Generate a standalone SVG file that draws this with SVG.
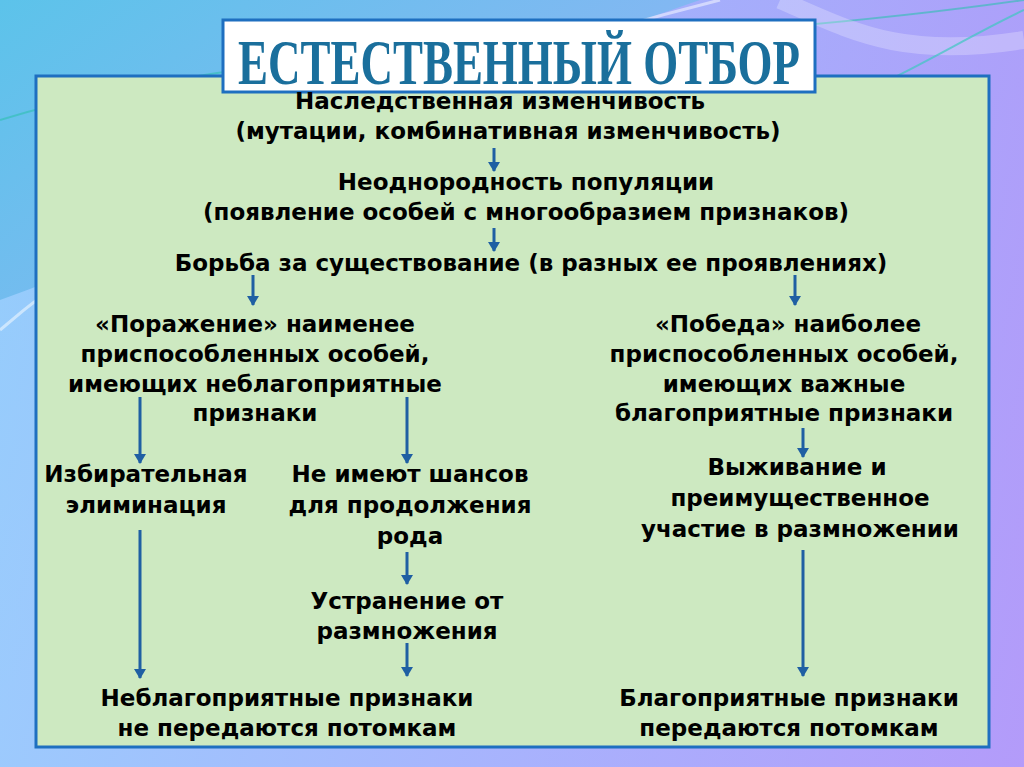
<svg xmlns="http://www.w3.org/2000/svg" width="1024" height="767" viewBox="0 0 1024 767">
<defs>
<linearGradient id="bg" x1="0" y1="0" x2="1" y2="1">
<stop offset="0" stop-color="#5cc3ea"/>
<stop offset="0.45" stop-color="#8fb4f5"/>
<stop offset="1" stop-color="#b497f5"/>
</linearGradient>
<linearGradient id="bg2" x1="0" y1="0" x2="1" y2="0">
<stop offset="0" stop-color="#9fd0ff"/>
<stop offset="0.5" stop-color="#a9b6ff"/>
<stop offset="1" stop-color="#b39cfb"/>
</linearGradient>
<marker id="ah" viewBox="0 0 10 12" refX="9" refY="6" markerWidth="10" markerHeight="12" markerUnits="userSpaceOnUse" orient="auto">
<path d="M0,0 L10,6 L0,12 Z" fill="#1f5fa3"/>
</marker>
<style>
.t{font-family:"DejaVu Sans",Verdana,sans-serif;font-weight:bold;font-size:23px;fill:#000;text-anchor:middle}
.c{stroke:#1f5fa3;stroke-width:3;fill:none}
</style>
</defs>
<rect x="0" y="0" width="1024" height="767" fill="url(#bg)"/>
<path d="M0,300 C200,230 350,120 700,0 L1024,0 L1024,767 L0,767 Z" fill="url(#bg2)" opacity="0.8"/>
<path d="M0,330 C150,200 400,80 720,0" stroke="#ffffff" stroke-width="3" fill="none" opacity="0.5"/>
<path d="M0,120 C300,30 600,60 1024,0" stroke="#2fbfb0" stroke-width="2" fill="none" opacity="0.6"/>
<path d="M780,0 C850,30 900,60 1024,40" stroke="#ffffff" stroke-width="18" fill="none" opacity="0.25"/>
<path d="M820,110 C900,80 960,40 1024,10" stroke="#3fc7c0" stroke-width="2" fill="none" opacity="0.7"/>

<g id="panel">
<rect x="36" y="76" width="953" height="671" fill="#cde9c1" stroke="#1e6fc0" stroke-width="3"/>
</g>
<g id="title">
<rect x="223" y="20" width="592" height="72" fill="#ffffff" stroke="#1e6fc0" stroke-width="3"/>
<text x="519" y="84" font-family="'Liberation Serif',serif" font-weight="bold" font-size="64" fill="#1a6f9c" text-anchor="middle" textLength="562" lengthAdjust="spacingAndGlyphs">ЕСТЕСТВЕННЫЙ ОТБОР</text>
</g>

<g id="connectors">
<line class="c" x1="494" y1="148" x2="494" y2="171" marker-end="url(#ah)"/>
<line class="c" x1="494" y1="228" x2="494" y2="251" marker-end="url(#ah)"/>
<line class="c" x1="253" y1="275" x2="253" y2="305" marker-end="url(#ah)"/>
<line class="c" x1="795" y1="275" x2="795" y2="305" marker-end="url(#ah)"/>
<line class="c" x1="140" y1="397" x2="140" y2="463" marker-end="url(#ah)"/>
<line class="c" x1="407" y1="397" x2="407" y2="463" marker-end="url(#ah)"/>
<line class="c" x1="803" y1="428" x2="803" y2="457" marker-end="url(#ah)"/>
<line class="c" x1="407" y1="552" x2="407" y2="584" marker-end="url(#ah)"/>
<line class="c" x1="140" y1="530" x2="140" y2="678" marker-end="url(#ah)"/>
<line class="c" x1="407" y1="643" x2="407" y2="676" marker-end="url(#ah)"/>
<line class="c" x1="803" y1="550" x2="803" y2="676" marker-end="url(#ah)"/>
</g>

<g id="n1"><text class="t" x="500" y="109">Наследственная изменчивость</text>
<text class="t" x="508" y="139">(мутации, комбинативная изменчивость)</text></g>
<g id="n2"><text class="t" x="526" y="190">Неоднородность популяции</text>
<text class="t" x="526" y="220">(появление особей с многообразием признаков)</text></g>
<g id="n3"><text class="t" x="531" y="271">Борьба за существование (в разных ее проявлениях)</text></g>
<g id="n4"><text class="t" x="255" y="332">«Поражение» наименее</text>
<text class="t" x="255" y="362">приспособленных особей,</text>
<text class="t" x="255" y="392">имеющих неблагоприятные</text>
<text class="t" x="255" y="421">признаки</text></g>
<g id="n5"><text class="t" x="788" y="332">«Победа» наиболее</text>
<text class="t" x="784" y="362">приспособленных особей,</text>
<text class="t" x="784" y="392">имеющих важные</text>
<text class="t" x="784" y="421">благоприятные признаки</text></g>
<g id="n6"><text class="t" x="146" y="482">Избирательная</text>
<text class="t" x="146" y="513">элиминация</text></g>
<g id="n7"><text class="t" x="410" y="482">Не имеют шансов</text>
<text class="t" x="410" y="513">для продолжения</text>
<text class="t" x="410" y="544">рода</text></g>
<g id="n8"><text class="t" x="797" y="475">Выживание и</text>
<text class="t" x="800" y="506">преимущественное</text>
<text class="t" x="800" y="537">участие в размножении</text></g>
<g id="n9"><text class="t" x="407" y="609">Устранение от</text>
<text class="t" x="407" y="639">размножения</text></g>
<g id="n10"><text class="t" x="287" y="706">Неблагоприятные признаки</text>
<text class="t" x="287" y="736">не передаются потомкам</text></g>
<g id="n11"><text class="t" x="789" y="706">Благоприятные признаки</text>
<text class="t" x="789" y="736">передаются потомкам</text></g>
</svg>
